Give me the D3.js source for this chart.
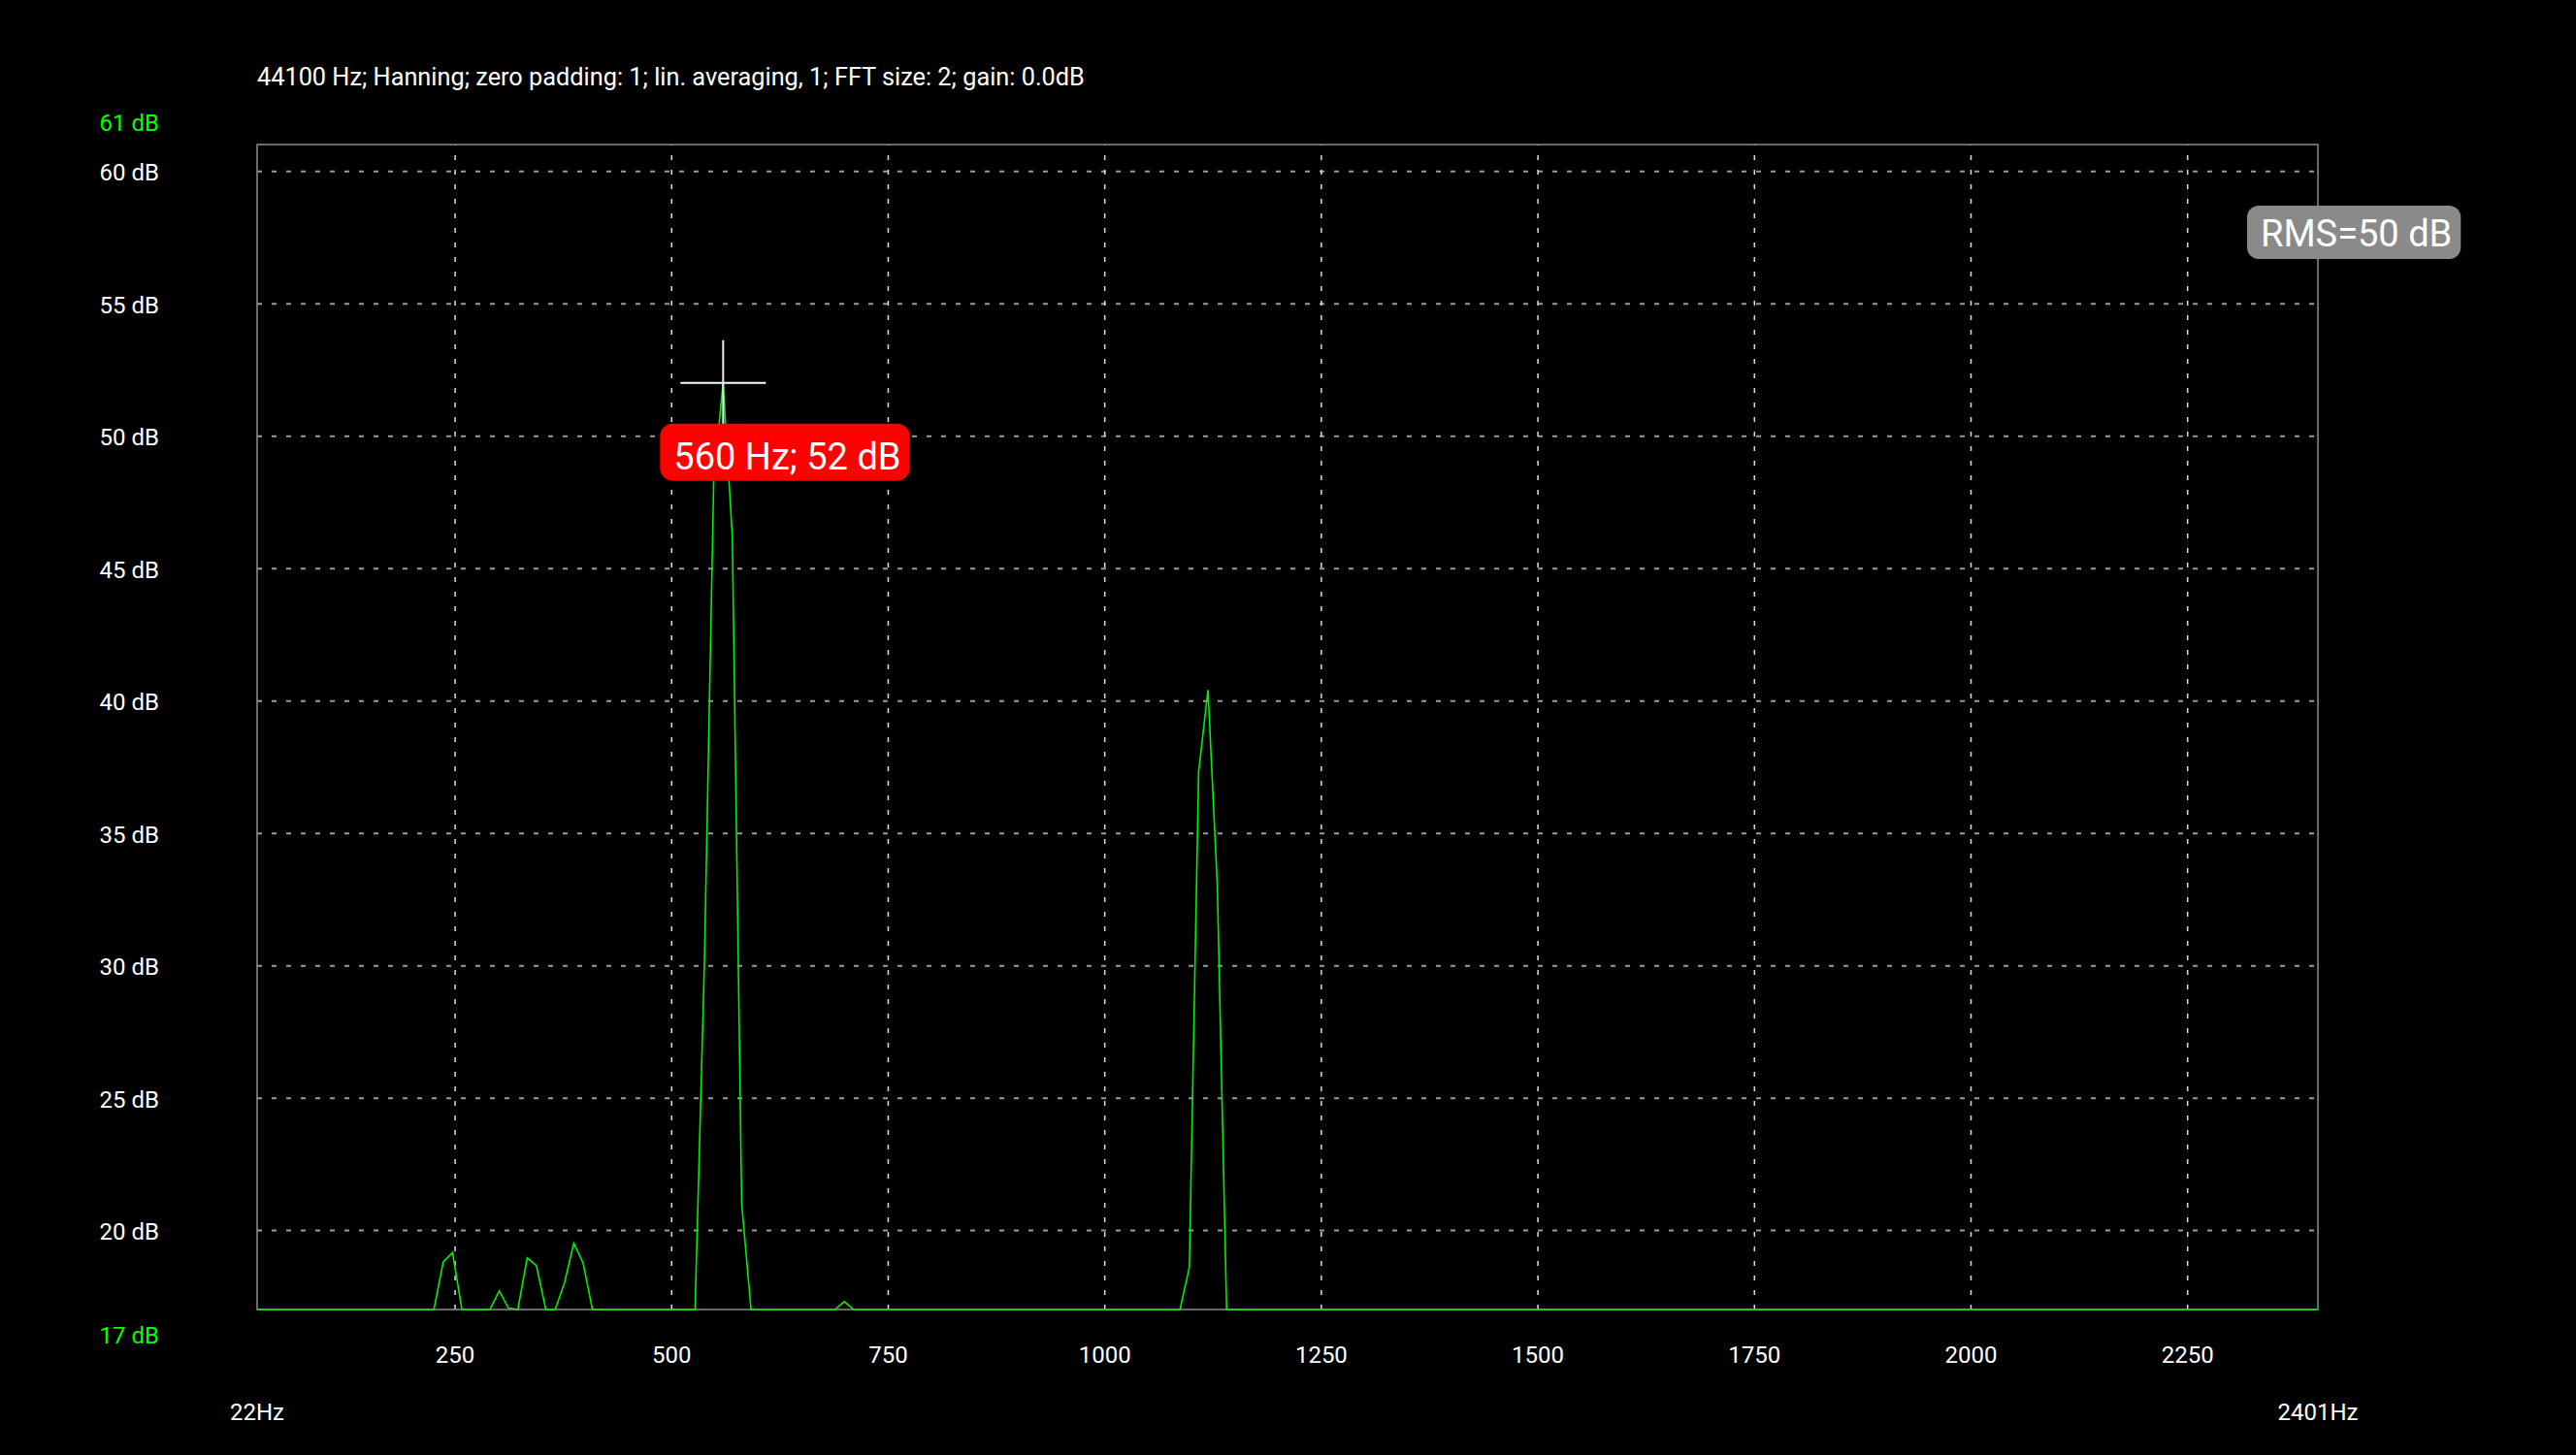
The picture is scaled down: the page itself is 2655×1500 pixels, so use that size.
<!DOCTYPE html>
<meta charset="utf-8">
<style>

    body {
        margin: 0;
        background: #000;
    }

    svg {
        display: block;
        background: #000;
        font-family: Roboto, sans-serif;
    }

    .axis path,
    .axis line {
        display: none;
    }

    .axis text {
        fill: #fff;
        font-family: Roboto, sans-serif;
        font-size: 24px;
    }

    .grid path {
        stroke-width: 0;
    }

    .grid--y line {
        stroke: #9a9a9a;
        stroke-width: 2px;
        stroke-dasharray: 5 10;
    }

    .grid--x line {
        stroke: #dedede;
        stroke-width: 1.5px;
        stroke-dasharray: 5 10;
    }

    .frame {
        fill: none;
        stroke: #8c8c8c;
        stroke-width: 1.5px;
    }

    .line {
        fill: none;
        stroke: #00f000;
        stroke-width: 1.6px;
    }

</style>

<svg width="2655" height="1500"></svg>

<script src="https://cdn.jsdelivr.net/npm/d3@7"></script>
<script>

    // chart data
    var title = "44100 Hz; Hanning; zero padding: 1; lin. averaging, 1; FFT size: 2; gain: 0.0dB";

    var freqs = [22, 226.1, 236.9, 247.6, 258.4, 290.7, 301.5, 312.2, 323.0, 333.8, 344.5,
        355.3, 366.1, 376.8, 387.6, 398.4, 409.1, 527.6, 538.3, 549.1, 559.9, 570.6, 581.4,
        592.2, 689.1, 699.8, 710.6, 1087.4, 1098.2, 1108.9, 1119.7, 1130.5, 1141.2, 2401];

    var dbs = [17, 17, 18.8, 19.15, 17, 17, 17.7, 17.05, 17, 18.95, 18.65,
        17, 17, 18.0, 19.5, 18.75, 17, 17, 30.0, 48.3, 52.0, 46.2, 21.0,
        17, 17, 17.3, 17, 17, 18.6, 37.3, 40.4, 33.0, 17, 17];

    var xTicks = [250, 500, 750, 1000, 1250, 1500, 1750, 2000, 2250];
    var yTicks = [20, 25, 30, 35, 40, 45, 50, 55, 60];
    var xDomain = [22, 2401];
    var yDomain = [17, 61];

    var peakFreq = 560,
        peakDb = 52,
        peakText = "560 Hz; 52 dB",
        rmsText = "RMS=50 dB";

    var svg = d3.select("svg"),
        margin = {top: 149, right: 266, bottom: 150, left: 265},
        width = svg.attr("width") - margin.left - margin.right,
        height = svg.attr("height") - margin.top - margin.bottom,
        g = svg.append("g").attr("transform", "translate(" + margin.left + "," + margin.top + ")");

    var x = d3.scaleLinear().domain(xDomain).range([0, width]),
        y = d3.scaleLinear().domain(yDomain).range([height, 0]);

    var line = d3.line()
        .x(function(d) { return x(d.f); })
        .y(function(d) { return y(d.db); });

    var data = freqs.map(function(f, i) { return {f: f, db: dbs[i]}; });

    // title
    svg.append("text")
        .attr("x", margin.left)
        .attr("y", 88)
        .attr("fill", "#fff")
        .style("font-size", "25.3px")
        .text(title);

    // horizontal gridlines
    g.append("g")
        .attr("class", "grid grid--y")
        .call(d3.axisLeft(y)
            .tickValues(yTicks)
            .tickSize(-width)
            .tickFormat("")
        );

    // vertical gridlines
    g.append("g")
        .attr("class", "grid grid--x")
        .attr("transform", "translate(0," + height + ")")
        .call(d3.axisBottom(x)
            .tickValues(xTicks)
            .tickSize(-height)
            .tickFormat("")
        );

    // plot frame
    g.append("rect")
        .attr("class", "frame")
        .attr("x", 0)
        .attr("y", 0)
        .attr("width", width)
        .attr("height", height);

    // y axis labels
    g.append("g")
        .attr("class", "axis axis--y")
        .call(d3.axisLeft(y)
            .tickValues(yTicks)
            .tickSize(0)
            .tickPadding(101)
            .tickFormat(function(d) { return d + " dB"; }))
        .selectAll("text")
        .attr("dy", "0.4em");

    // x axis labels
    g.append("g")
        .attr("class", "axis axis--x")
        .attr("transform", "translate(0," + height + ")")
        .call(d3.axisBottom(x)
            .tickValues(xTicks)
            .tickSize(0)
            .tickPadding(38)
            .tickFormat(d3.format("d")));

    // range labels at the ends of each axis
    g.append("text")
        .attr("x", -101)
        .attr("y", y(yDomain[1]) - 14)
        .attr("text-anchor", "end")
        .attr("fill", "#00ff00")
        .style("font-size", "24px")
        .text(yDomain[1] + " dB");

    g.append("text")
        .attr("x", -101)
        .attr("y", y(yDomain[0]) + 35)
        .attr("text-anchor", "end")
        .attr("fill", "#00ff00")
        .style("font-size", "24px")
        .text(yDomain[0] + " dB");

    g.selectAll(".range-x")
        .data(xDomain)
        .enter().append("text")
        .attr("class", "range-x")
        .attr("x", function(d) { return x(d); })
        .attr("y", height + 114)
        .attr("text-anchor", "middle")
        .attr("fill", "#fff")
        .style("font-size", "24px")
        .text(function(d) { return d + "Hz"; });

    // spectrum
    g.append("path")
        .datum(data)
        .attr("class", "line")
        .attr("d", line);

    // cursor
    var cx = x(peakFreq),
        cy = y(peakDb);

    g.append("line")
        .attr("x1", cx - 44).attr("x2", cx + 44)
        .attr("y1", cy).attr("y2", cy)
        .attr("stroke", "#fff")
        .attr("stroke-width", 2);

    g.append("line")
        .attr("x1", cx).attr("x2", cx)
        .attr("y1", cy - 44).attr("y2", cy + 44)
        .attr("stroke", "#eee")
        .attr("stroke-width", 2);

    var peakBox = g.append("rect")
        .attr("x", cx - 65)
        .attr("y", cy + 42)
        .attr("height", 59)
        .attr("rx", 13)
        .attr("fill", "#ff0000");

    var peakLabel = g.append("text")
        .attr("x", cx - 51)
        .attr("y", cy + 89)
        .attr("fill", "#fff")
        .style("font-size", "38px")
        .text(peakText);

    peakBox.attr("width", peakLabel.node().getComputedTextLength() + 23);

    // RMS badge
    var rmsBox = svg.append("rect")
        .attr("x", 2316)
        .attr("y", 212)
        .attr("height", 55)
        .attr("rx", 12)
        .attr("fill", "#8a8a8a");

    var rmsLabel = svg.append("text")
        .attr("x", 2330)
        .attr("y", 254)
        .attr("fill", "#fff")
        .style("font-size", "38px")
        .text(rmsText);

    rmsBox.attr("width", rmsLabel.node().getComputedTextLength() + 23);

</script>
